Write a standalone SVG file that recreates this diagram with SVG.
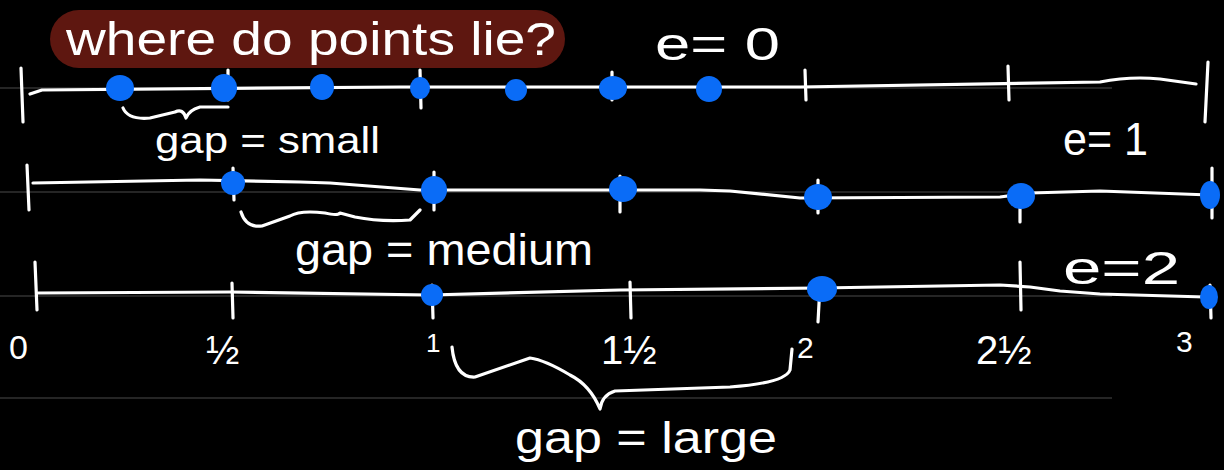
<svg xmlns="http://www.w3.org/2000/svg" width="1224" height="470" viewBox="0 0 1224 470">
<style>
.ink{fill:none;stroke:#fff;stroke-width:3.2;stroke-linecap:round;stroke-linejoin:round}
.grid{stroke:#4a4a4a;stroke-width:1}
.dot{fill:#0a6cf7}
.hand{fill:#fff;font-family:"Liberation Sans","DejaVu Sans",sans-serif}
</style>
<rect width="1224" height="470" fill="#000"/>
<g id="grid">
<line class="grid" x1="0" y1="88" x2="1112" y2="88"/>
<line class="grid" x1="0" y1="192" x2="1112" y2="192"/>
<line class="grid" x1="0" y1="296" x2="1112" y2="296"/>
<line class="grid" x1="0" y1="398" x2="1112" y2="398"/>
</g>
<g id="title">
<rect x="50" y="10" width="515" height="58" rx="29" fill="#5e1710"/>
<text class="hand" x="66" y="55" font-size="46" textLength="490" lengthAdjust="spacingAndGlyphs">where do points lie?</text>
</g>
<g id="line-e0">
<path class="ink" d="M30,94 L42,90 L400,87 L800,87 L1100,82 Q1130,76 1160,79 L1196,84"/>
<path class="ink" d="M21,68 L23,122 M1208,62 L1205,122 M228,70 L228,100 M420,70 L421,108 M612,72 L612,100 M805,70 L806,100 M1008,66 L1009,100"/>
<ellipse class="dot" cx="120" cy="88" rx="14" ry="13"/>
<ellipse class="dot" cx="224" cy="88" rx="13" ry="14"/>
<ellipse class="dot" cx="322" cy="87" rx="12" ry="13"/>
<ellipse class="dot" cx="420" cy="88" rx="10" ry="11"/>
<ellipse class="dot" cx="516" cy="90" rx="11" ry="11"/>
<ellipse class="dot" cx="613" cy="88" rx="14" ry="12"/>
<ellipse class="dot" cx="709" cy="89" rx="13" ry="13"/>
<text class="hand" x="655" y="60" font-size="46" textLength="125" lengthAdjust="spacingAndGlyphs">e= 0</text>
</g>
<g id="line-e1">
<path class="ink" d="M33,183 L200,180 L300,182 L330,183 L420,190 L600,190 L700,190 L730,191 L800,198 L1000,197 L1030,193 L1100,191 L1210,195"/>
<path class="ink" d="M27,165 L29,210 M233,168 L234,200 M434,172 L434,210 M620,176 L620,212 M818,180 L818,213 M1020,186 L1020,222 M1212,168 L1212,218"/>
<ellipse class="dot" cx="233" cy="183" rx="12" ry="12"/>
<ellipse class="dot" cx="434" cy="190" rx="13" ry="14"/>
<ellipse class="dot" cx="623" cy="189" rx="14" ry="13"/>
<ellipse class="dot" cx="818" cy="197" rx="14" ry="13"/>
<ellipse class="dot" cx="1021" cy="196" rx="14" ry="13"/>
<ellipse class="dot" cx="1210" cy="195" rx="10" ry="14"/>
<text class="hand" x="1063" y="155" font-size="46" textLength="85" lengthAdjust="spacingAndGlyphs">e= 1</text>
</g>
<g id="line-e2">
<path class="ink" d="M38,293 L230,292 L430,295 L620,290 L820,288 L1000,285 L1030,287 L1060,291 L1100,294 L1205,297"/>
<path class="ink" d="M35,262 L37,310 M232,283 L233,318 M432,285 L433,318 M630,282 L631,318 M820,285 L818,322 M1020,262 L1021,310 M1210,285 L1211,318"/>
<ellipse class="dot" cx="432" cy="295" rx="11" ry="11"/>
<ellipse class="dot" cx="822" cy="289" rx="15" ry="13"/>
<ellipse class="dot" cx="1209" cy="297" rx="9" ry="12"/>
<text class="hand" x="1063" y="284" font-size="46" textLength="117" lengthAdjust="spacingAndGlyphs">e=2</text>
</g>
<g id="labels">
<text class="hand" x="9" y="359" font-size="34">0</text>
<text class="hand" x="206" y="364" font-size="40">½</text>
<text class="hand" x="426" y="352" font-size="26">1</text>
<text class="hand" x="601" y="364" font-size="40">1½</text>
<text class="hand" x="797" y="358" font-size="30">2</text>
<text class="hand" x="976" y="364" font-size="40">2½</text>
<text class="hand" x="1176" y="352" font-size="30">3</text>
</g>
<g id="connectors">
<path class="ink" d="M123,108 Q128,120 150,118 L175,112 Q183,108 186,118 Q189,110 200,107 L228,107"/>
<path class="ink" d="M241,212 Q246,228 262,226 L290,216 Q300,210 325,213 Q338,216 340,213 L355,217 Q380,222 410,220 L420,210"/>
<path class="ink" d="M452,347 Q455,378 475,377 L530,358 Q545,360 570,375 Q590,385 600,409 Q602,395 615,391 L730,387 Q785,383 790,370 L792,349"/>
</g>
<g id="gap-labels">
<text class="hand" x="155" y="153" font-size="36" textLength="225" lengthAdjust="spacingAndGlyphs">gap = small</text>
<text class="hand" x="295" y="265" font-size="44" textLength="298" lengthAdjust="spacingAndGlyphs">gap =  medium</text>
<text class="hand" x="515" y="453" font-size="44" textLength="262" lengthAdjust="spacingAndGlyphs">gap = large</text>
</g>
</svg>
